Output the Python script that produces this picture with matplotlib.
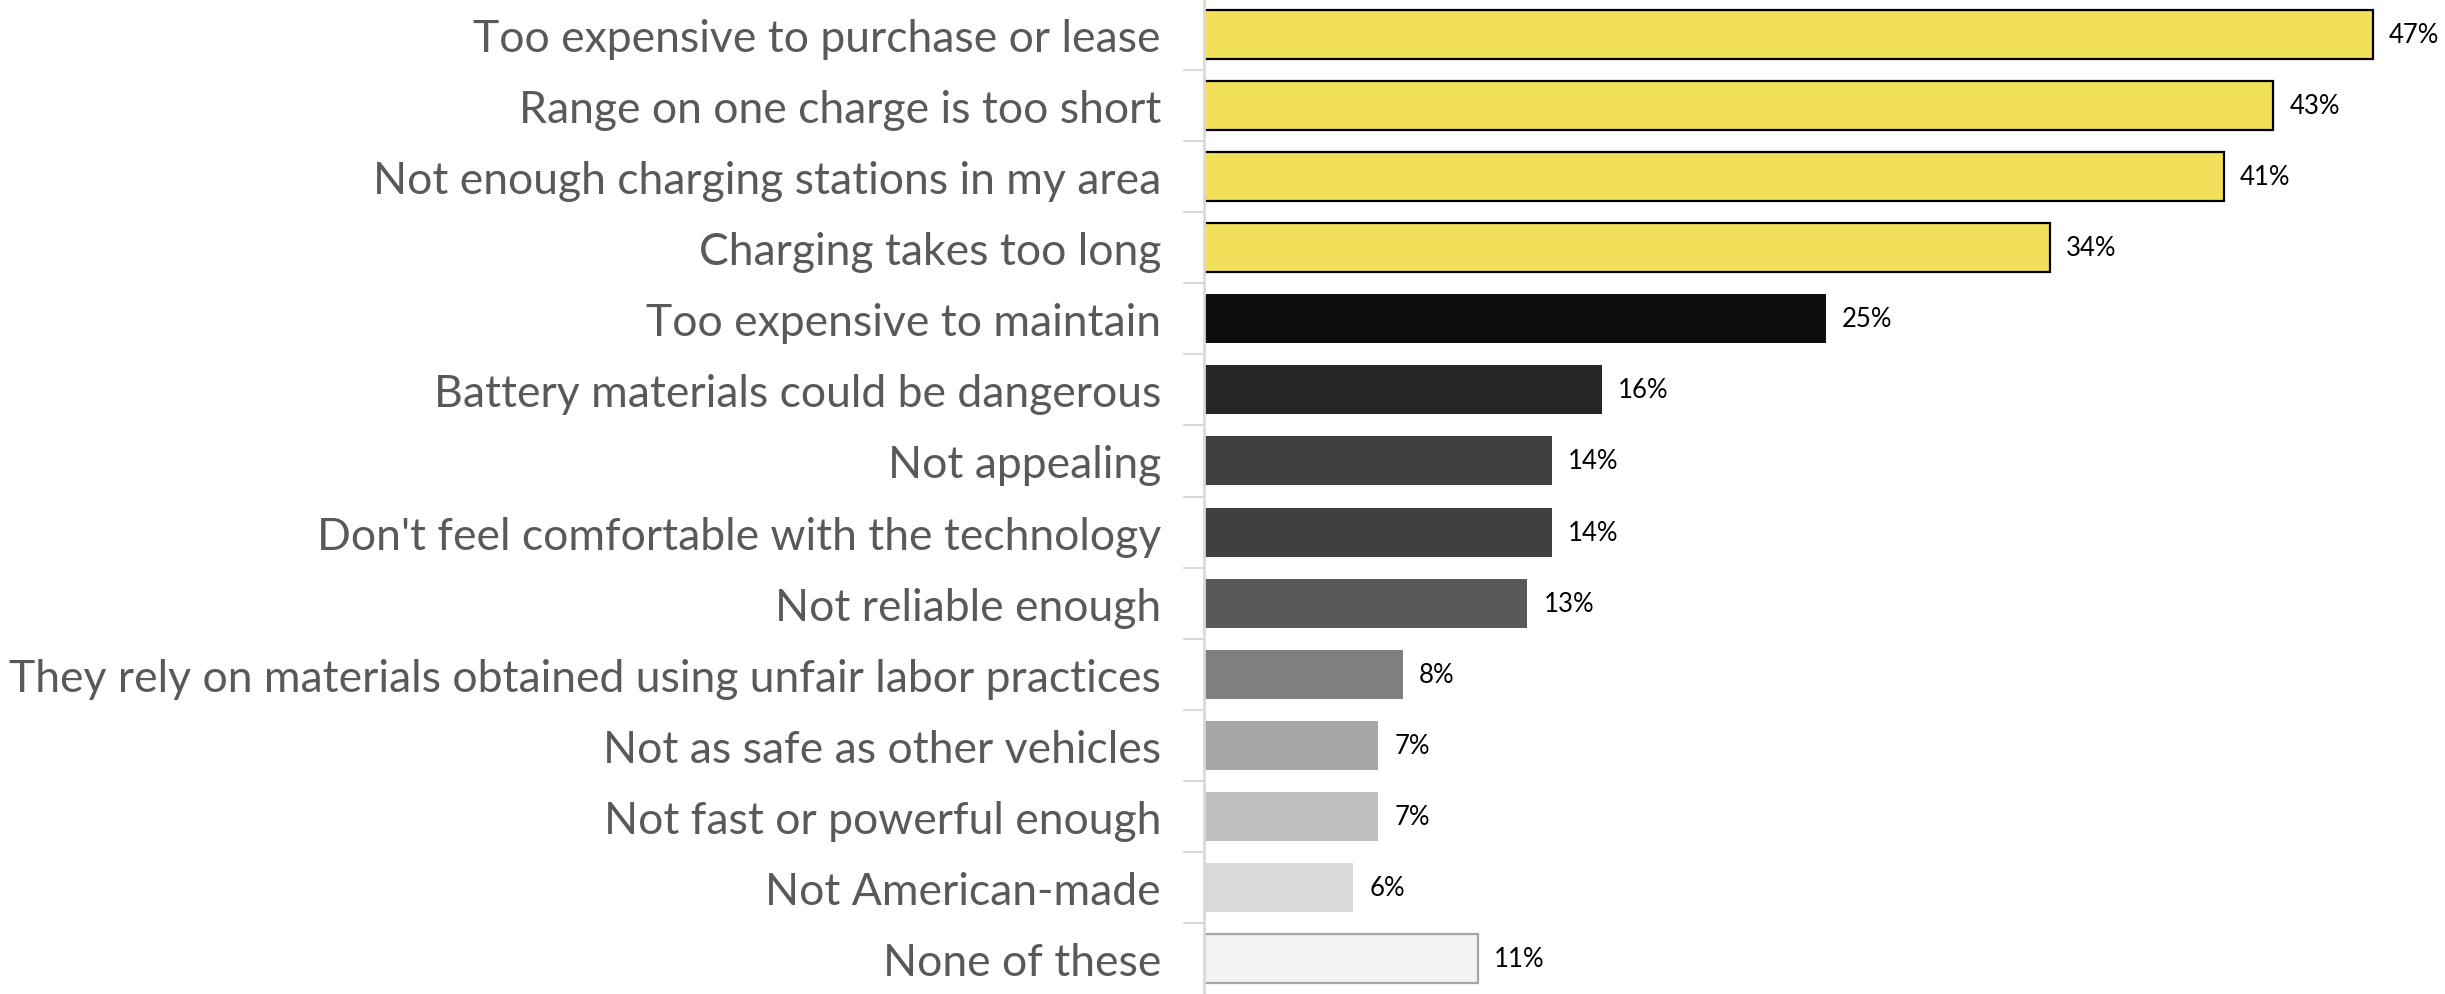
import matplotlib.pyplot as plt

# Reasons for not considering an electric vehicle
reasons = [
    "Too expensive to purchase or lease",
    "Range on one charge is too short",
    "Not enough charging stations in my area",
    "Charging takes too long",
    "Too expensive to maintain",
    "Battery materials could be dangerous",
    "Not appealing",
    "Don't feel comfortable with the technology",
    "Not reliable enough",
    "They rely on materials obtained using unfair labor practices",
    "Not as safe as other vehicles",
    "Not fast or powerful enough",
    "Not American-made",
    "None of these",
]
shares = [47, 43, 41, 34, 25, 16, 14, 14, 13, 8, 7, 7, 6, 11]

fill_colors = ["#f3e05a", "#f3e05a", "#f3e05a", "#f3e05a",
               "#0d0d0d", "#262626", "#404040", "#404040", "#595959",
               "#7f7f7f", "#a6a6a6", "#bfbfbf", "#d9d9d9", "#f2f2f2"]
edge_colors = ["#000000"] * 4 + ["none"] * 9 + ["#a6a6a6"]

plt.rcParams["font.family"] = ["Lato", "DejaVu Sans"]

fig = plt.figure(figsize=(24.45, 9.95), dpi=100)
ax = fig.add_axes([1204 / 2445, 0.0, 1 - 1204 / 2445, 1.0])

ypos = list(range(len(reasons)))
bars = ax.barh(ypos, shares, height=0.69, color=fill_colors,
               edgecolor=edge_colors, linewidth=1.6)

for b, v in zip(bars, shares):
    ax.text(v + 0.65, b.get_y() + b.get_height() / 2, f"{v}%",
            va="center", ha="left", fontsize=18.5, color="#000000")

ax.set_ylim(len(reasons) - 0.5, -0.5)
ax.set_xlim(0, 49.9)

# category labels centred on bars, ticks between them
ax.set_yticks(ypos)
ax.set_yticklabels(reasons, fontsize=32, color="#595959")
ax.tick_params(axis="y", which="major", length=0, pad=31)
ax.set_yticks([i + 0.5 for i in range(len(reasons) - 1)], minor=True)
ax.tick_params(axis="y", which="minor", length=15, width=1.5, color="#d9d9d9")

ax.set_xticks([])
for side in ["top", "right", "bottom"]:
    ax.spines[side].set_visible(False)
ax.spines["left"].set_color("#d9d9d9")
ax.spines["left"].set_linewidth(2)

fig.savefig("out.png", dpi=100)
